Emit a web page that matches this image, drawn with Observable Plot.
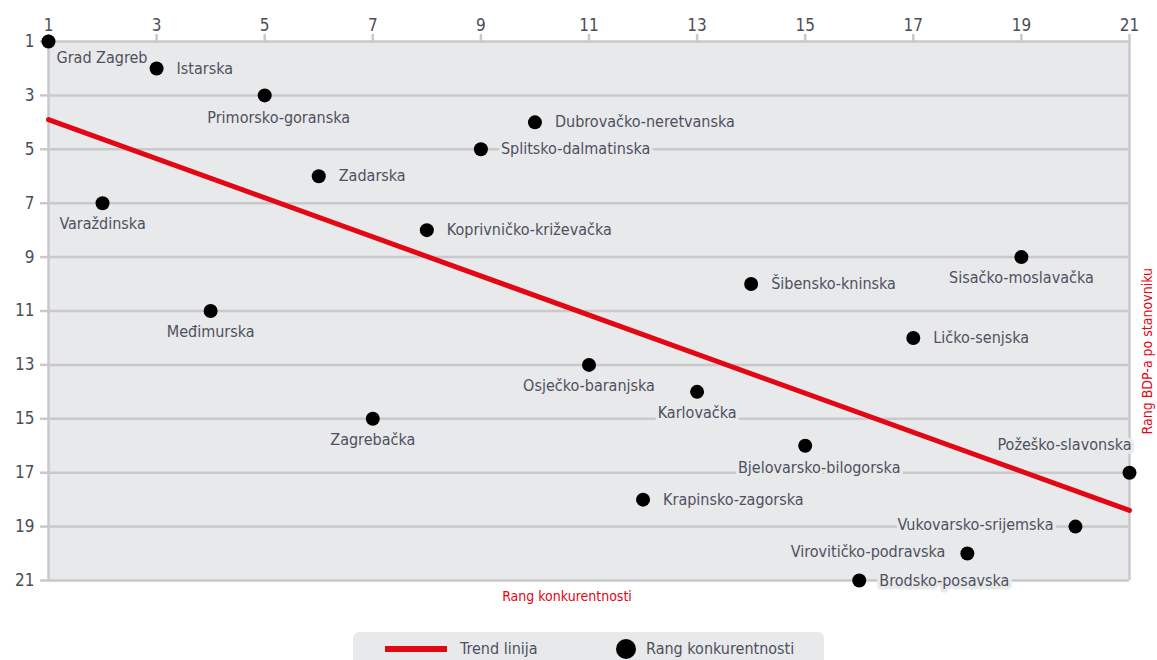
<!DOCTYPE html>
<html>
<head>
<meta charset="utf-8">
<script src="https://cdn.jsdelivr.net/npm/d3@7"></script>
<script src="https://cdn.jsdelivr.net/npm/@observablehq/plot@0.6"></script>
<style>
  html, body { margin: 0; padding: 0; background: #fff; }
  body { width: 1157px; height: 660px; overflow: hidden;
    font-family: "DejaVu Sans Condensed", "Liberation Sans", sans-serif; }
  #legend { margin-left: 353px; margin-top: 12px; width: 471px; height: 40px; background: #e8e9eb;
    border-radius: 6px 6px 0 0; position: relative; color: #4f5060; font-size: 16px; }
  #legend .line { position: absolute; left: 32px; top: 14px; width: 62px; height: 6px; background: #e30613; }
  #legend .t1 { position: absolute; left: 107px; top: 7px; }
  #legend .dot { position: absolute; left: 263px; top: 7px; width: 20px; height: 20px; border-radius: 50%; background: #000; }
  #legend .t2 { position: absolute; left: 293px; top: 7px; }
</style>
</head>
<body>
<div id="chart"></div>
<div id="legend"><div class="line"></div><span class="t1">Trend linija</span><div class="dot"></div><span class="t2">Rang konkurentnosti</span></div>
<script>
// Data
const counties = ["Grad Zagreb","Istarska","Primorsko-goranska","Dubrovačko-neretvanska","Splitsko-dalmatinska","Zadarska","Varaždinska","Koprivničko-križevačka","Sisačko-moslavačka","Šibensko-kninska","Međimurska","Ličko-senjska","Osječko-baranjska","Karlovačka","Zagrebačka","Bjelovarsko-bilogorska","Požeško-slavonska","Krapinsko-zagorska","Vukovarsko-srijemska","Virovitičko-podravska","Brodsko-posavska"];
const rangKonkurentnosti = [1,3,5,10,9,6,2,8,19,14,4,17,11,13,7,15,21,12,20,18,16];
const rangBDP = [1,2,3,4,5,6,7,8,9,10,11,12,13,14,15,16,17,18,19,20,21];
const trendX = [1, 21];
const trendY = [3.9, 18.4];
const xTicks = [1,3,5,7,9,11,13,15,17,19,21];
const yTicks = [1,3,5,7,9,11,13,15,17,19,21];
const xTitle = "Rang konkurentnosti";
const yTitle = "Rang BDP-a po stanovniku";

const data = counties.map((name, i) => ({name, x: rangKonkurentnosti[i], y: rangBDP[i]}));
const trend = trendX.map((x, i) => ({x, y: trendY[i]}));

// label placement (layout only)
const placement = {
  "Grad Zagreb": "belowStart",
  "Primorsko-goranska": "belowRight", "Bjelovarsko-bilogorska": "belowRight",
  "Varaždinska": "below", "Sisačko-moslavačka": "below", "Međimurska": "below",
  "Osječko-baranjska": "below", "Karlovačka": "below", "Zagrebačka": "below",
  "Vukovarsko-srijemska": "left", "Virovitičko-podravska": "left",
  "Požeško-slavonska": "aboveLeft"
};
const side = d => placement[d.name] || "right";

const bg = "#e8e9eb", grid = "#c9c9cc", txt = "#4f5060", red = "#e30613";
const labelOpts = {x: "x", y: "y", text: "name", fill: txt, fontSize: 16, stroke: bg, strokeWidth: 7, paintOrder: "stroke"};

const chart = Plot.plot({
  width: 1157, height: 620,
  marginLeft: 48, marginRight: 28, marginTop: 41, marginBottom: 40,
  style: {fontFamily: '"DejaVu Sans Condensed", "Liberation Sans", sans-serif', fontSize: "17px", background: "transparent"},
  x: {domain: [1, 21], axis: null},
  y: {domain: [1, 21], reverse: true, axis: null},
  marks: [
    Plot.frame({fill: bg, stroke: null}),
    Plot.ruleY(yTicks, {stroke: grid, strokeWidth: 2.5}),
    Plot.ruleX([trendX[0], trendX[1]], {stroke: grid, strokeWidth: 2.5}),
    Plot.axisX(xTicks, {anchor: "top", tickSize: 8, tickPadding: 3, stroke: grid, strokeWidth: 2.5, fill: "#4d4d55", label: null}),
    Plot.axisY(yTicks, {anchor: "left", tickSize: 8, tickPadding: 6, stroke: grid, strokeWidth: 2.5, fill: "#4d4d55", label: null}),
    Plot.text(data.filter(d => side(d) === "right"), {...labelOpts, textAnchor: "start", dx: 20}),
    Plot.text(data.filter(d => side(d) === "below"), {...labelOpts, textAnchor: "middle", dy: 21}),
    Plot.text(data.filter(d => side(d) === "belowRight"), {...labelOpts, textAnchor: "middle", dx: 14, dy: 22}),
    Plot.text(data.filter(d => side(d) === "belowStart"), {...labelOpts, textAnchor: "start", dx: 8, dy: 16}),
    Plot.text(data.filter(d => side(d) === "left"), {...labelOpts, textAnchor: "end", dx: -22, dy: -2}),
    Plot.text(data.filter(d => side(d) === "aboveLeft"), {...labelOpts, textAnchor: "end", dx: 2, dy: -28}),
    Plot.line(trend, {x: "x", y: "y", stroke: red, strokeWidth: 5}),
    Plot.dot(data, {x: "x", y: "y", r: 7, fill: "#000"}),
    Plot.text([xTitle], {frameAnchor: "bottom", dx: -22, dy: 20, fill: red, fontSize: 14}),
    Plot.text([yTitle], {frameAnchor: "right", rotate: -90, dx: 18, dy: -43, fill: red, fontSize: 14})
  ]
});
document.getElementById("chart").appendChild(chart);
</script>
</body>
</html>
